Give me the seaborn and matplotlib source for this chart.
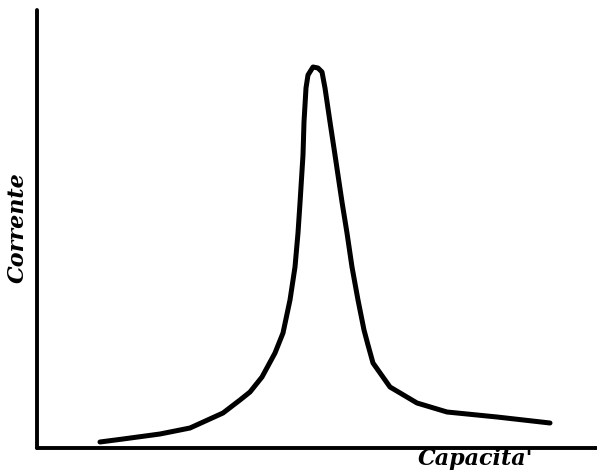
import numpy as np
import pandas as pd
import matplotlib
matplotlib.use("Agg")
import matplotlib.pyplot as plt
import seaborn as sns

# resonance curve (arbitrary units)
capacita = [63, 86, 123, 153, 186, 203, 213, 225, 238, 246, 253, 258, 261, 263,
            266, 267, 269, 271, 276, 281, 285, 288, 293, 298, 305, 310, 315, 321,
            327, 331, 336, 353, 380, 410, 460, 513]
corrente = [6, 9, 14, 20, 35, 48, 56, 71, 95, 115, 148, 181, 215, 245,
            293, 326, 360, 373, 381, 380, 376, 360, 326, 293, 246, 215, 181, 148,
            118, 103, 85, 61, 45, 36, 31, 25]

x_label = "Capacita'"
y_label = "Corrente"

df = pd.DataFrame({"capacita": capacita, "corrente": corrente})

sns.set_style("white")

fig = plt.figure(figsize=(5.97, 4.71), dpi=100)
ax = fig.add_axes([37 / 597, 23 / 471, 560 / 597, 438 / 471])

sns.lineplot(data=df, x="capacita", y="corrente", sort=False, color="black",
             linewidth=3.6, ax=ax)
for line in ax.get_lines():
    line.set_solid_joinstyle("round")
    line.set_solid_capstyle("round")

ax.set_xlim(0, 560)
ax.set_ylim(0, 438)
ax.set_xticks([])
ax.set_yticks([])
ax.set_xlabel("")
ax.set_ylabel("")

for side in ["top", "right"]:
    ax.spines[side].set_visible(False)
for side in ["left", "bottom"]:
    ax.spines[side].set_linewidth(2.8)
    ax.spines[side].set_color("black")
    ax.spines[side].set_capstyle("round")

# hand-written style labels placed like the sketch
lab_font = dict(family="DejaVu Serif", fontsize=16, fontweight="bold",
                fontstyle="italic", color="black")
fig.text(0.796, 0.026, x_label, ha="center", va="center", **lab_font)
fig.text(0.030, 0.516, y_label, ha="center", va="center", rotation=90, **lab_font)

fig.savefig("out.png", dpi=100, facecolor="white")
